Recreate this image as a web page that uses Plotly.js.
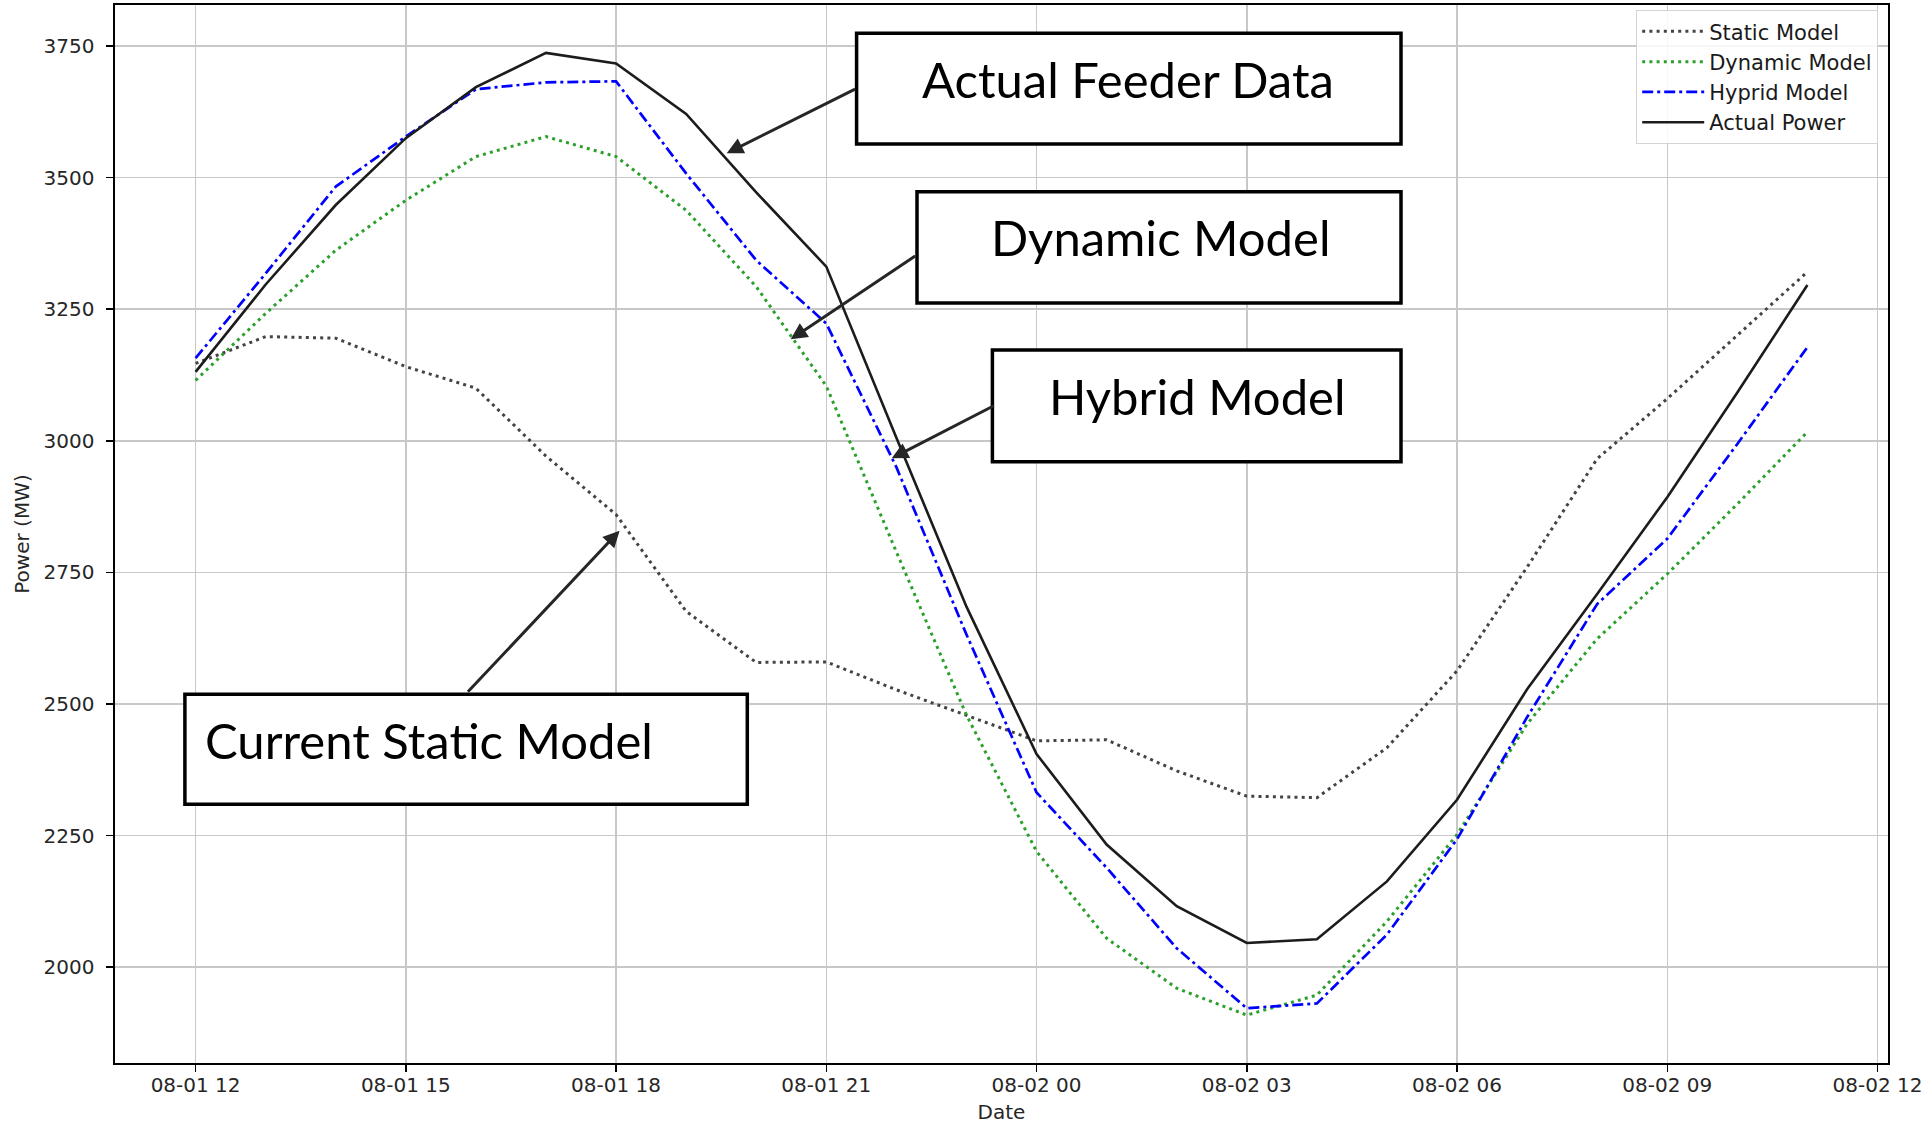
<!DOCTYPE html>
<html>
<head>
<meta charset="utf-8">
<script src="https://cdn.plot.ly/plotly-3.0.1.min.js"></script>
<style>
  html, body { margin: 0; padding: 0; background: #ffffff; }
  #chart { width: 1921px; height: 1124px; }
</style>
</head>
<body>
<div id="chart"></div>
<script>
// ---- data (hourly, 08-01 12:00 .. 08-02 11:00) ----
const times = [
  '2023-08-01 12:00','2023-08-01 13:00','2023-08-01 14:00','2023-08-01 15:00',
  '2023-08-01 16:00','2023-08-01 17:00','2023-08-01 18:00','2023-08-01 19:00',
  '2023-08-01 20:00','2023-08-01 21:00','2023-08-01 22:00','2023-08-01 23:00',
  '2023-08-02 00:00','2023-08-02 01:00','2023-08-02 02:00','2023-08-02 03:00',
  '2023-08-02 04:00','2023-08-02 05:00','2023-08-02 06:00','2023-08-02 07:00',
  '2023-08-02 08:00','2023-08-02 09:00','2023-08-02 10:00','2023-08-02 11:00'
];
const staticModel  = [3147,3198,3195,3141,3100,2971,2860,2676,2579,2580,2527,2479,2430,2432,2373,2325,2322,2417,2563,2760,2966,3080,3200,3321];
const dynamicModel = [3115,3242,3362,3457,3540,3578,3540,3438,3293,3104,2789,2479,2220,2055,1960,1909,1947,2087,2252,2462,2624,2747,2880,3017];
const hybridModel  = [3157,3318,3483,3578,3668,3681,3683,3508,3343,3223,2950,2632,2332,2189,2036,1922,1931,2062,2243,2475,2690,2814,2994,3178];
const actualPower  = [3131,3297,3448,3575,3672,3737,3717,3621,3472,3331,3006,2685,2405,2233,2116,2046,2053,2163,2318,2528,2709,2893,3092,3296];

const seriesNames = ['Static Model','Dynamic Model','Hyprid Model','Actual Power'];
const calloutTexts = ['Actual Feeder Data','Dynamic Model','Hybrid Model','Current Static Model'];

// ---- layout geometry (pixels) ----
const W = 1921, H = 1124;
const plotL = 115, plotR = 1888, plotT = 5, plotB = 1063;
const px = v => (v - plotL) / (plotR - plotL);
const py = v => (plotB - v) / (plotB - plotT);

const traces = [
  { x: times, y: staticModel, name: seriesNames[0], mode: 'lines',
    line: { color: '#444444', width: 3, dash: '3px,4.2px' } },
  { x: times, y: dynamicModel, name: seriesNames[1], mode: 'lines',
    line: { color: '#2ca02c', width: 3, dash: '3px,4.2px' } },
  { x: times, y: hybridModel, name: seriesNames[2], mode: 'lines',
    line: { color: '#0000ff', width: 2.7, dash: '11px,4px,3px,4px' } },
  { x: times, y: actualPower, name: seriesNames[3], mode: 'lines',
    line: { color: '#1c1c1c', width: 2.6 } }
];

// callout boxes [x0,y0,x1,y1] in pixels
const boxes = [
  [856.6, 33.3, 1401, 144],
  [917, 191.7, 1401, 303],
  [992.4, 350, 1401, 461.7],
  [184.9, 694.3, 747.3, 804.3]
];
const shapes = boxes.map(b => ({
  type: 'rect', xref: 'paper', yref: 'paper', layer: 'above',
  x0: px(b[0]), x1: px(b[2]), y0: py(b[3]), y1: py(b[1]),
  line: { color: '#000000', width: 3.5 }, fillcolor: '#ffffff'
}));

const calloutFont = { family: 'Lato, "Open Sans", sans-serif', size: 49, color: '#000000' };
const annotations = [
  { text: calloutTexts[0], x: px(1128), y: py(79), xanchor: 'center' },
  { text: calloutTexts[1], x: px(1160), y: py(237), xanchor: 'center' },
  { text: calloutTexts[2], x: px(1197), y: py(395.5), xanchor: 'center' },
  { text: calloutTexts[3], x: px(203), y: py(740), xanchor: 'left' }
].map(a => Object.assign({ xref: 'paper', yref: 'paper', yanchor: 'middle',
  showarrow: false, font: calloutFont }, a));

// arrows: [tailX, tailY, tipX, tipY] in pixels
const arrows = [
  [856.6, 88.3, 726.7, 153.3],
  [916.7, 255, 790.7, 339.3],
  [995.3, 405, 891.7, 458.3],
  [466.5, 693.3, 619.6, 530.7]
];
arrows.forEach(a => annotations.push({
  xref: 'paper', yref: 'paper', x: px(a[2]), y: py(a[3]),
  ax: a[0] - a[2], ay: a[1] - a[3], text: '',
  showarrow: true, arrowhead: 2, arrowsize: 1.1, arrowwidth: 3,
  arrowcolor: '#262626', standoff: 0, startstandoff: 0
}));

const tickFont = { family: '"DejaVu Sans", sans-serif', size: 20, color: '#262626' };

const layout = {
  width: W, height: H,
  margin: { l: plotL, r: W - plotR, t: plotT, b: H - plotB, pad: 0 },
  paper_bgcolor: '#ffffff', plot_bgcolor: '#ffffff',
  font: tickFont,
  showlegend: true,
  legend: {
    x: px(1878), y: py(10), xanchor: 'right', yanchor: 'top',
    bgcolor: 'rgba(255,255,255,0.85)', bordercolor: '#d4d4d4', borderwidth: 1.2,
    font: { family: '"DejaVu Sans", sans-serif', size: 21, color: '#1a1a1a' },
    traceorder: 'normal', itemwidth: 62
  },
  xaxis: {
    type: 'date',
    range: ['2023-08-01 10:51', '2023-08-02 12:09'],
    tick0: '2023-08-01 12:00', dtick: 10800000, tickformat: '%m-%d %H',
    showgrid: true, gridcolor: '#c8c8c8', gridwidth: 1.5,
    showline: true, linecolor: '#000000', linewidth: 1.6, mirror: true,
    ticks: 'outside', ticklen: 7, tickwidth: 1.5, tickcolor: '#000000',
    tickfont: tickFont, zeroline: false, automargin: false,
    ticklabeloverflow: 'allow', ticklabelstandoff: -4,
    title: { text: 'Date', font: tickFont, standoff: 12 }
  },
  yaxis: {
    range: [1818, 3828], tick0: 2000, dtick: 250,
    showgrid: true, gridcolor: '#c8c8c8', gridwidth: 1.5,
    showline: true, linecolor: '#000000', linewidth: 1.6, mirror: true,
    ticks: 'outside', ticklen: 7, tickwidth: 1.5, tickcolor: '#000000',
    tickfont: tickFont, zeroline: false, automargin: false,
    ticklabelstandoff: 8,
    title: { text: 'Power (MW)', font: tickFont, standoff: 8 }
  },
  shapes: shapes,
  annotations: annotations
};

Plotly.newPlot('chart', traces, layout, { displayModeBar: false, staticPlot: true });
</script>
</body>
</html>
